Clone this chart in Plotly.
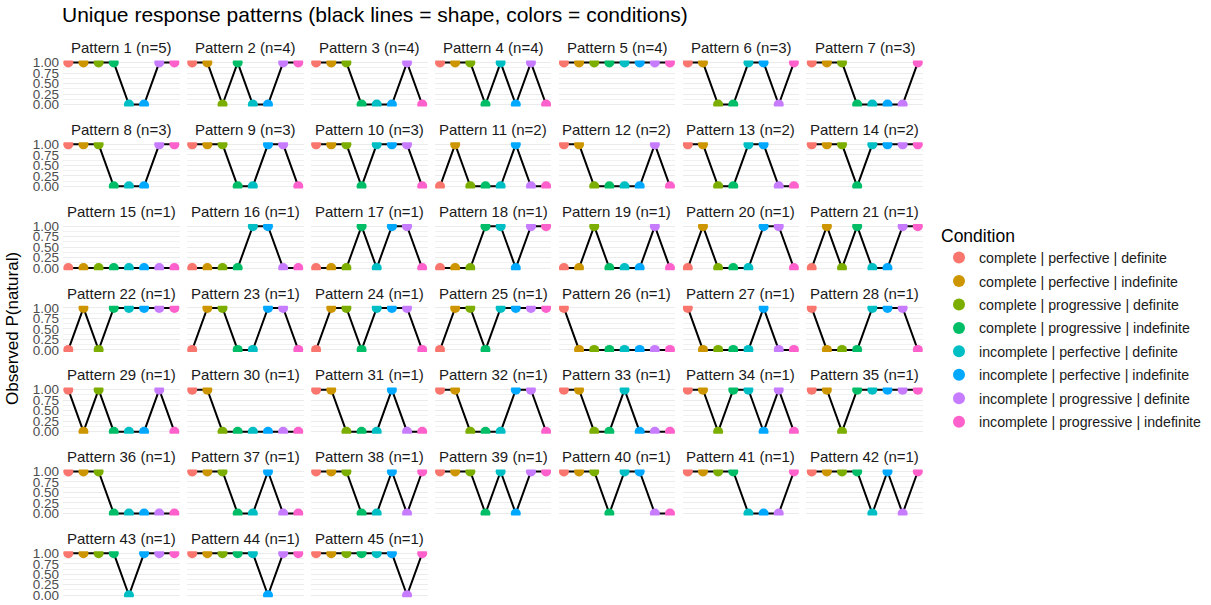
import plotly.graph_objects as go

# ---------------- data ----------------
conditions = [
    "complete | perfective | definite",
    "complete | perfective | indefinite",
    "complete | progressive | definite",
    "complete | progressive | indefinite",
    "incomplete | perfective | definite",
    "incomplete | perfective | indefinite",
    "incomplete | progressive | definite",
    "incomplete | progressive | indefinite",
]
condition_colors = ["#F8766D", "#CD9600", "#7CAE00", "#00BE67",
                    "#00BFC4", "#00A9FF", "#C77CFF", "#FF61CC"]

pattern_ids = list(range(1, 46))
pattern_n = [5, 4, 4, 4, 4, 3, 3, 3, 3, 3, 2, 2, 2, 2] + [1] * 31

pattern_values = [
    [1, 1, 1, 1, 0, 0, 1, 1],  # 1
    [1, 1, 0, 1, 0, 0, 1, 1],  # 2
    [1, 1, 1, 0, 0, 0, 1, 0],  # 3
    [1, 1, 1, 0, 1, 0, 1, 0],  # 4
    [1, 1, 1, 1, 1, 1, 1, 1],  # 5
    [1, 1, 0, 0, 1, 1, 0, 1],  # 6
    [1, 1, 1, 0, 0, 0, 0, 1],  # 7
    [1, 1, 1, 0, 0, 0, 1, 1],  # 8
    [1, 1, 1, 0, 0, 1, 1, 0],  # 9
    [1, 1, 1, 0, 1, 1, 1, 0],  # 10
    [0, 1, 0, 0, 0, 1, 0, 0],  # 11
    [1, 1, 0, 0, 0, 0, 1, 0],  # 12
    [1, 1, 0, 0, 1, 1, 0, 0],  # 13
    [1, 1, 1, 0, 1, 1, 1, 1],  # 14
    [0, 0, 0, 0, 0, 0, 0, 0],  # 15
    [0, 0, 0, 0, 1, 1, 0, 0],  # 16
    [0, 0, 0, 1, 0, 1, 1, 0],  # 17
    [0, 0, 0, 1, 1, 0, 1, 1],  # 18
    [0, 0, 1, 0, 0, 0, 1, 0],  # 19
    [0, 1, 0, 0, 0, 1, 1, 0],  # 20
    [0, 1, 0, 1, 0, 0, 1, 1],  # 21
    [0, 1, 0, 1, 1, 1, 1, 1],  # 22
    [0, 1, 1, 0, 0, 1, 1, 0],  # 23
    [0, 1, 1, 0, 1, 1, 1, 0],  # 24
    [0, 1, 1, 0, 1, 1, 1, 1],  # 25
    [1, 0, 0, 0, 0, 0, 0, 0],  # 26
    [1, 0, 0, 0, 0, 1, 0, 0],  # 27
    [1, 0, 0, 0, 1, 1, 1, 0],  # 28
    [1, 0, 1, 0, 0, 0, 1, 0],  # 29
    [1, 1, 0, 0, 0, 0, 0, 0],  # 30
    [1, 1, 0, 0, 0, 1, 0, 0],  # 31
    [1, 1, 0, 0, 0, 1, 1, 0],  # 32
    [1, 1, 0, 0, 1, 0, 0, 0],  # 33
    [1, 1, 0, 1, 1, 0, 1, 0],  # 34
    [1, 1, 0, 1, 1, 1, 1, 1],  # 35
    [1, 1, 1, 0, 0, 0, 0, 0],  # 36
    [1, 1, 1, 0, 0, 1, 0, 0],  # 37
    [1, 1, 1, 0, 0, 1, 0, 1],  # 38
    [1, 1, 1, 0, 1, 0, 1, 1],  # 39
    [1, 1, 1, 0, 1, 1, 0, 0],  # 40
    [1, 1, 1, 1, 0, 0, 0, 1],  # 41
    [1, 1, 1, 1, 0, 1, 0, 1],  # 42
    [1, 1, 1, 1, 0, 1, 1, 1],  # 43
    [1, 1, 1, 1, 1, 0, 1, 1],  # 44
    [1, 1, 1, 1, 1, 1, 0, 1],  # 45
]

y_tickvals = [0, 0.25, 0.5, 0.75, 1.0]
y_ticktext = ["0.00", "0.25", "0.50", "0.75", "1.00"]

# ---------------- layout geometry (pixels) ----------------
W, H = 1211, 605
NCOL = 7
COL_LEFT0, COL_STEP, PANEL_W = 63, 123.9, 116.7
ROW_TOP0, ROW_STEP, PANEL_H = 56.5, 83.3, 47
FONT = "Liberation Sans, Arial, Helvetica, sans-serif"

fig = go.Figure()
layout = dict(
    width=W, height=H,
    margin=dict(l=0, r=0, t=0, b=0),
    plot_bgcolor="white", paper_bgcolor="white",
    font=dict(family=FONT, color="#1A1A1A"),
    showlegend=True,
)
annotations = []

for i, (pid, n, vals) in enumerate(zip(pattern_ids, pattern_n, pattern_values)):
    r, c = divmod(i, NCOL)
    left = COL_LEFT0 + COL_STEP * c
    top = ROW_TOP0 + ROW_STEP * r
    xd = [left / W, (left + PANEL_W) / W]
    yd = [1 - (top + PANEL_H) / H, 1 - top / H]
    suffix = "" if i == 0 else str(i + 1)
    xa, ya = "x" + suffix, "y" + suffix

    layout["xaxis" + suffix] = dict(
        domain=xd, anchor=ya, type="category",
        categoryorder="array", categoryarray=conditions,
        range=[-0.35, 7.35], showticklabels=False, showgrid=False,
        zeroline=False, showline=False, ticks="", fixedrange=True,
    )
    layout["yaxis" + suffix] = dict(
        domain=yd, anchor=xa, range=[-0.05, 1.05],
        tickvals=y_tickvals, ticktext=y_ticktext,
        showticklabels=(c == 0), ticks="", ticklabelstandoff=3,
        tickfont=dict(size=13.5, color="#4D4D4D", family=FONT),
        showgrid=True, gridcolor="#EBEBEB", gridwidth=1,
        minor=dict(tickvals=[0.125, 0.375, 0.625, 0.875], showgrid=True,
                   gridcolor="#F1F1F1", gridwidth=0.6, ticks=""),
        zeroline=False, showline=False, fixedrange=True,
    )

    fig.add_trace(go.Scatter(
        x=conditions, y=vals, xaxis=xa, yaxis=ya, mode="lines",
        line=dict(color="black", width=2), showlegend=False,
        hoverinfo="skip", cliponaxis=True,
    ))
    fig.add_trace(go.Scatter(
        x=conditions, y=vals, xaxis=xa, yaxis=ya, mode="markers",
        marker=dict(color=condition_colors, size=10, line=dict(width=0)),
        showlegend=False, cliponaxis=True,
        text=conditions, hovertemplate="%{text}: %{y}<extra></extra>",
    ))

    annotations.append(dict(
        text=f"Pattern {pid} (n={n})", xref="paper", yref="paper",
        x=(xd[0] + xd[1]) / 2, y=1 - (top - 13) / H,
        xanchor="center", yanchor="middle", showarrow=False,
        font=dict(size=15, color="#1A1A1A", family=FONT),
    ))

# legend entries (one per condition)
for name, col in zip(conditions, condition_colors):
    fig.add_trace(go.Scatter(
        x=[None], y=[None], xaxis="x", yaxis="y", mode="markers",
        marker=dict(color=col, size=10), name=name, legendgroup=name,
        showlegend=True,
    ))

annotations.append(dict(
    text="Unique response patterns (black lines = shape, colors = conditions)",
    xref="paper", yref="paper", x=60 / W, y=1 - 10 / H,
    xanchor="left", yanchor="middle", showarrow=False,
    font=dict(size=21, color="black", family=FONT),
))
annotations.append(dict(
    text="Observed P(natural)", xref="paper", yref="paper",
    x=12 / W, y=1 - 330 / H, textangle=-90,
    xanchor="center", yanchor="middle", showarrow=False,
    font=dict(size=17, color="black", family=FONT),
))

layout["annotations"] = annotations
layout["legend"] = dict(
    x=939 / W, y=1 - 218 / H, xanchor="left", yanchor="top",
    title=dict(text="Condition", font=dict(size=17.5, color="black", family=FONT)),
    font=dict(size=14.2, color="#1A1A1A", family=FONT),
    traceorder="grouped", tracegroupgap=2,
    itemsizing="constant", bgcolor="rgba(0,0,0,0)",
)
fig.update_layout(**layout)
fig.write_html(
    "out.html",
    config={"displayModeBar": False},
    post_script="document.body.style.margin='0';document.body.style.overflow='hidden';",
)
